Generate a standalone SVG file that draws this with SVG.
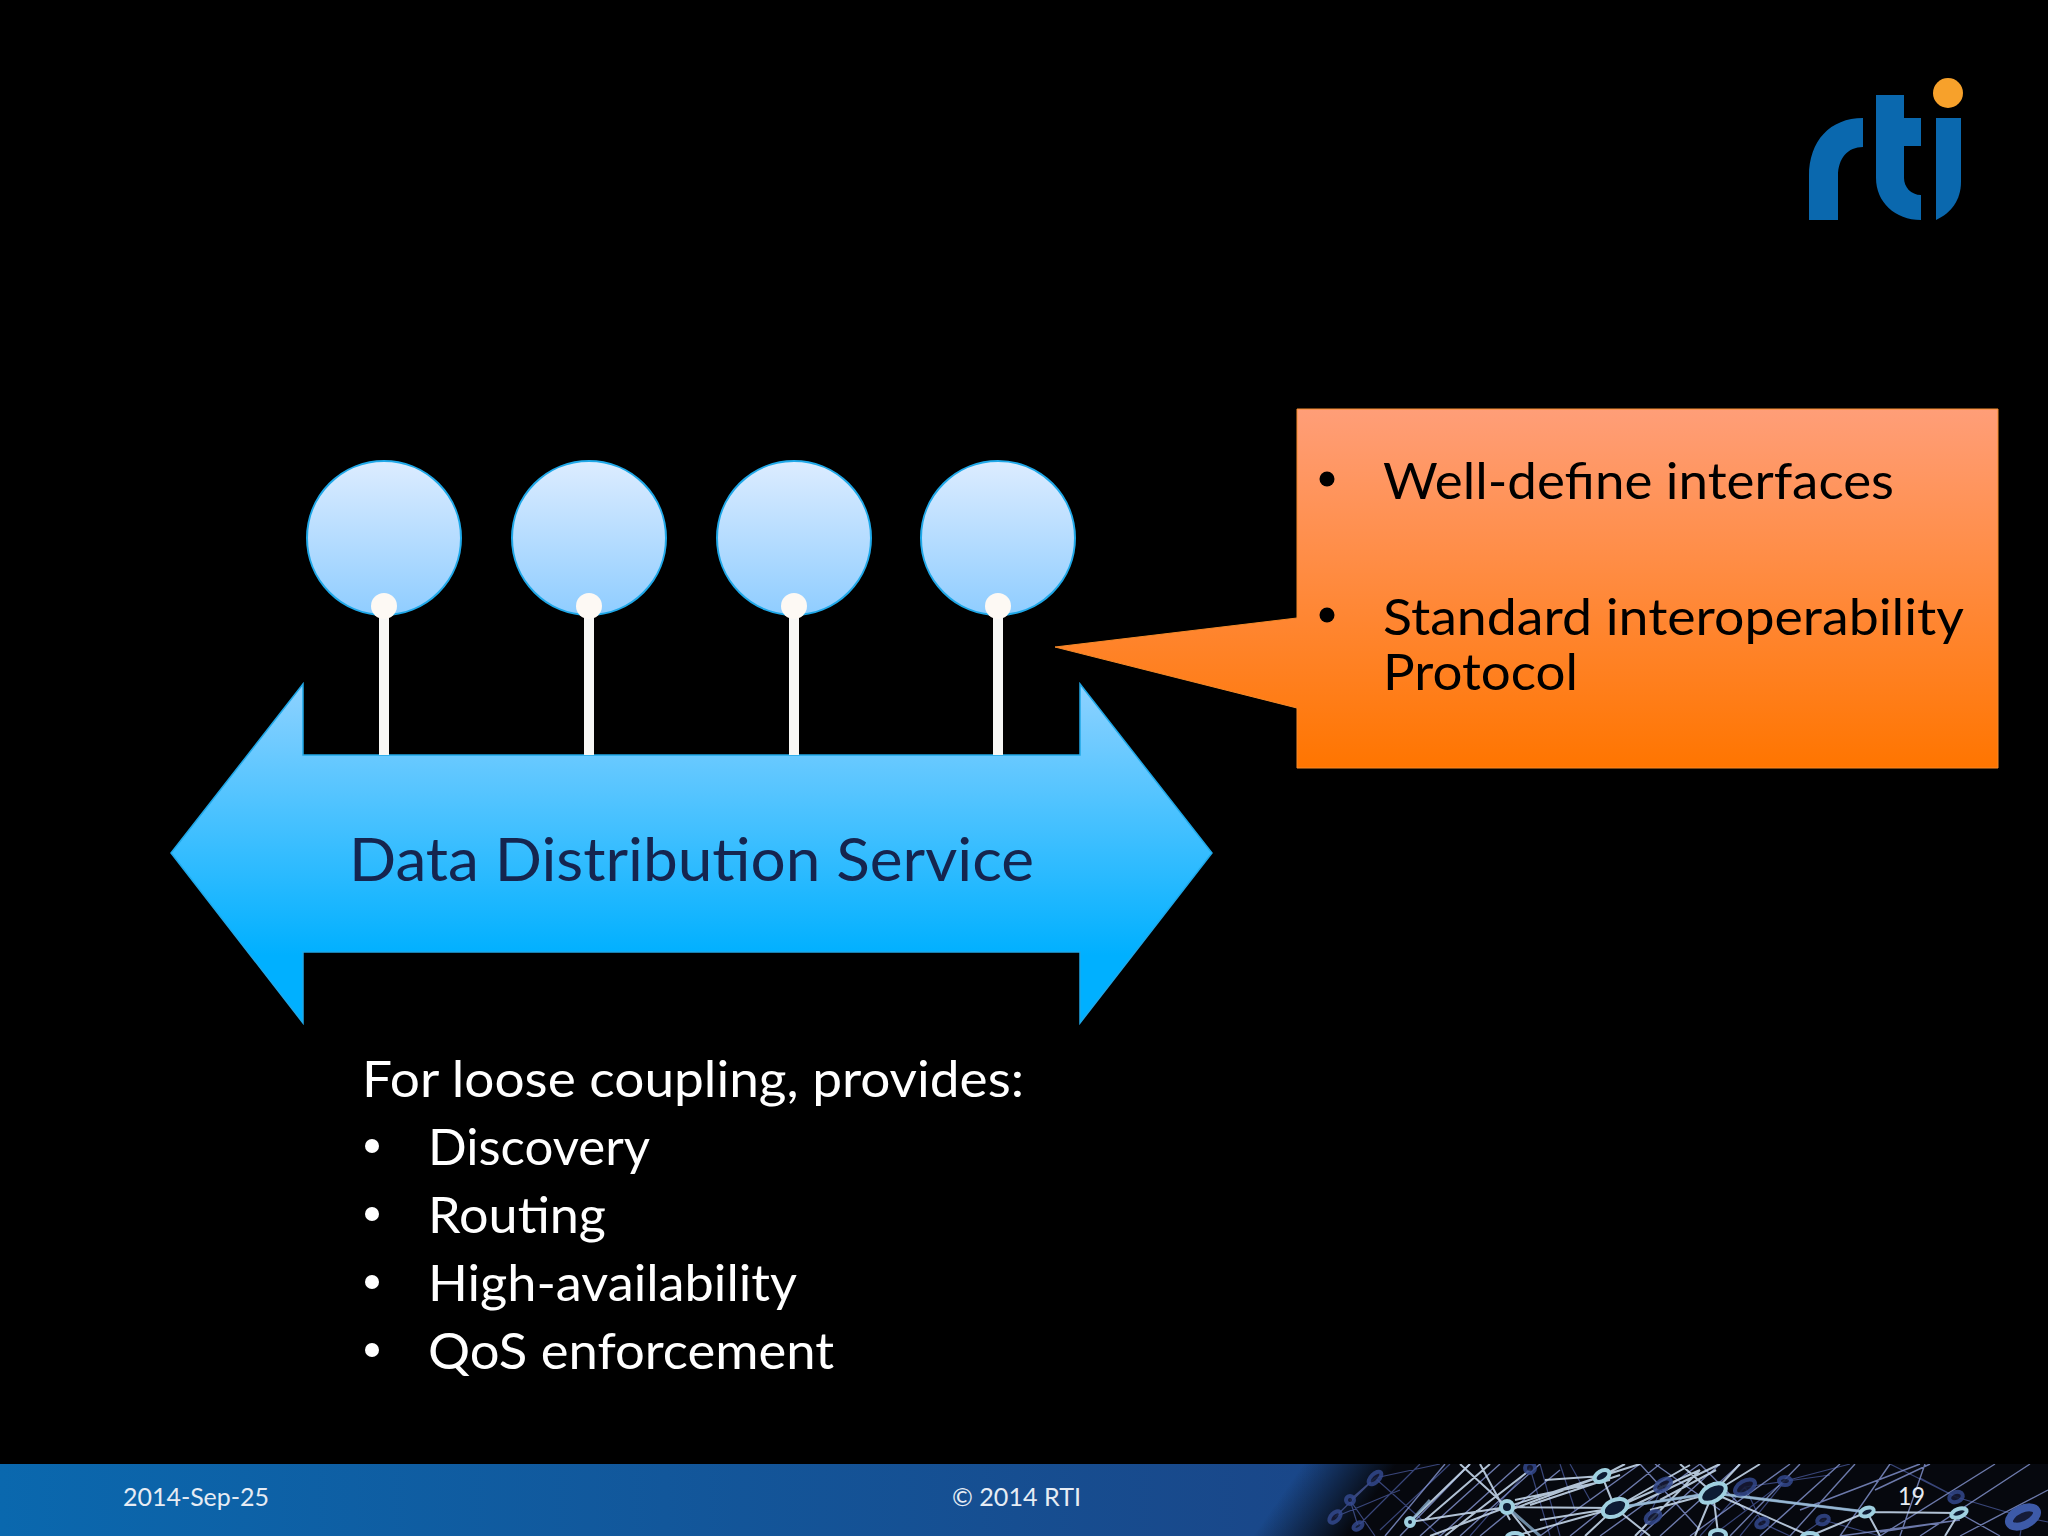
<svg xmlns="http://www.w3.org/2000/svg" width="2048" height="1536" viewBox="0 0 2048 1536">
<defs>
<style>
text{font-family:"Lato","Liberation Sans",sans-serif}
.b{font-size:50px;fill:#fff}
.k{font-size:50px;fill:#000}
.f{font-size:25px;fill:#e6ecf4}
.n0{stroke:#4a5a9c;stroke-width:1.2;fill:none;opacity:.75}
.n1{stroke:#8696d2;stroke-width:1.4;fill:none;opacity:.8}
.n2{stroke:#c4d6ea;stroke-width:2;fill:none;opacity:.9}
.n3{stroke:#8fb4d4;stroke-width:3;fill:none;opacity:.75}
.r1{fill:#101c34;stroke:#9fd0e0;stroke-width:4}
.r2{fill:#141c38;stroke:#33488c;stroke-width:4;opacity:.85}
</style>
<filter id="soft" x="-2%" y="-10%" width="104%" height="120%"><feGaussianBlur stdDeviation="0.7"/></filter>
<linearGradient id="gC" x1="0" y1="0" x2="0" y2="1"><stop offset="0" stop-color="#dcecff"/><stop offset="1" stop-color="#8fcdff"/></linearGradient>
<linearGradient id="gA" gradientUnits="userSpaceOnUse" x1="0" y1="684" x2="0" y2="1023"><stop offset="0" stop-color="#8ed2ff"/><stop offset="0.8" stop-color="#00b0ff"/><stop offset="1" stop-color="#00b0ff"/></linearGradient>
<linearGradient id="gO" gradientUnits="userSpaceOnUse" x1="0" y1="409" x2="0" y2="768"><stop offset="0" stop-color="#ff9e78"/><stop offset="1" stop-color="#ff7500"/></linearGradient>
<linearGradient id="gF" x1="0" y1="0" x2="1" y2="0"><stop offset="0" stop-color="#0a68ae"/><stop offset="0.65" stop-color="#1a4688"/><stop offset="1" stop-color="#1a4688"/></linearGradient>
<linearGradient id="gK" gradientUnits="userSpaceOnUse" x1="1280" y1="1497" x2="1343" y2="1541"><stop offset="0" stop-color="#06080e" stop-opacity="0"/><stop offset="1" stop-color="#06080e"/></linearGradient>
<clipPath id="cF"><rect x="0" y="1464" width="2048" height="72"/></clipPath>
</defs>
<rect width="2048" height="1536" fill="#000"/>
<g id="logo">
<path fill="#0a68ae" d="M1809 220V176C1809 141 1830 118 1863 118V147C1848 147 1838 158 1838 176V220Z"/>
<path fill="#0a68ae" d="M1876 95H1904V118H1921V146H1904V178C1904 187 1911 195 1921 195V220C1895 220 1876 202 1876 178Z"/>
<path fill="#0a68ae" d="M1936 118H1961V182C1961 200 1951 213 1936 220Z"/>
<circle cx="1948" cy="93" r="15" fill="#f7a12b"/>
</g>
<g id="bus">
<path fill="url(#gA)" stroke="#1fa8e8" stroke-width="1.5" d="M171 853L303 684V755H1080V684L1212 853L1080 1023V952H303V1023Z"/>
<text x="349" y="881" font-size="60" fill="#15254f" textLength="685" lengthAdjust="spacingAndGlyphs">Data Distribution Service</text>
</g>
<g id="connectors">
<rect x="379" y="606" width="10" height="149" fill="#f7f7f5"/>
<rect x="584" y="606" width="10" height="149" fill="#f7f7f5"/>
<rect x="789" y="606" width="10" height="149" fill="#f7f7f5"/>
<rect x="993" y="606" width="10" height="149" fill="#f7f7f5"/>
</g>
<g id="node1"><circle cx="384" cy="538" r="77" fill="url(#gC)" stroke="#1fa8e8" stroke-width="2"/><circle cx="384" cy="606" r="13" fill="#fdf9f4"/></g>
<g id="node2"><circle cx="589" cy="538" r="77" fill="url(#gC)" stroke="#1fa8e8" stroke-width="2"/><circle cx="589" cy="606" r="13" fill="#fdf9f4"/></g>
<g id="node3"><circle cx="794" cy="538" r="77" fill="url(#gC)" stroke="#1fa8e8" stroke-width="2"/><circle cx="794" cy="606" r="13" fill="#fdf9f4"/></g>
<g id="node4"><circle cx="998" cy="538" r="77" fill="url(#gC)" stroke="#1fa8e8" stroke-width="2"/><circle cx="998" cy="606" r="13" fill="#fdf9f4"/></g>
<g id="callout">
<path fill="url(#gO)" stroke="#f58a2a" stroke-width="1" d="M1297 409H1998V768H1297V708L1055 647L1297 618Z"/>
<circle cx="1327" cy="479" r="7.5" fill="#000"/>
<text class="k" x="1383" y="499" textLength="511" lengthAdjust="spacingAndGlyphs">Well-define interfaces</text>
<circle cx="1327" cy="615" r="7.5" fill="#000"/>
<text class="k" x="1383" y="635" textLength="581" lengthAdjust="spacingAndGlyphs">Standard interoperability</text>
<text class="k" x="1383" y="690" textLength="195" lengthAdjust="spacingAndGlyphs">Protocol</text>
</g>
<g id="list">
<text class="b" x="362" y="1097" textLength="662" lengthAdjust="spacingAndGlyphs">For loose coupling, provides:</text>
<circle cx="372" cy="1146" r="7" fill="#fff"/>
<text class="b" x="428" y="1165" textLength="222" lengthAdjust="spacingAndGlyphs">Discovery</text>
<circle cx="372" cy="1214" r="7" fill="#fff"/>
<text class="b" x="428" y="1233" textLength="178" lengthAdjust="spacingAndGlyphs">Routing</text>
<circle cx="372" cy="1282" r="7" fill="#fff"/>
<text class="b" x="428" y="1301" textLength="369" lengthAdjust="spacingAndGlyphs">High-availability</text>
<circle cx="372" cy="1350" r="7" fill="#fff"/>
<text class="b" x="428" y="1369" textLength="406" lengthAdjust="spacingAndGlyphs">QoS enforcement</text>
</g>
<g id="footer">
<rect x="0" y="1464" width="2048" height="72" fill="url(#gF)"/>
<rect x="1200" y="1464" width="848" height="72" fill="url(#gK)"/>
<g clip-path="url(#cF)"><g filter="url(#soft)">
<path class="n0" d="M1335 1517L1375 1478L1440 1464M1350 1500L1375 1536M1358 1526L1350 1500L1375 1478M1335 1517L1400 1490M1358 1526L1420 1464M1375 1478L1440 1536M1380 1530L1450 1464M1530 1468L1470 1536M1530 1468L1550 1536M1540 1464L1560 1536M1560 1464L1575 1510M1570 1464L1590 1500M1663 1485L1640 1536M1745 1487L1700 1536M1785 1481L1740 1536M1785 1481L1850 1464M1745 1487L1830 1475M1785 1481L1720 1530M1823 1520L1880 1536M1823 1520L1800 1536M1762 1523L1745 1487M1762 1523L1790 1536M1956 1497L1890 1464M1956 1497L2023 1517M2023 1517L2048 1522M2023 1517L2020 1536M1956 1497L1920 1478"/>
<path class="n1" d="M1400 1536L1470 1464M1420 1536L1500 1464M1440 1536L1520 1464M1385 1536L1445 1464M1460 1536L1540 1464M1480 1536L1560 1470M1540 1536L1640 1464M1570 1536L1660 1464M1600 1536L1700 1464M1640 1536L1720 1464M1660 1536L1740 1464M1690 1536L1790 1464M1730 1536L1800 1464M1760 1536L1840 1464M1790 1536L1855 1464M1840 1536L1890 1464M1875 1490L1930 1464M1800 1510L1920 1464M1880 1536L1995 1464M1920 1536L2030 1464M1900 1536L1925 1464M1960 1536L2048 1490M1655 1464L1720 1510M1640 1464L1700 1530M1700 1464L1745 1510M1840 1536L1960 1520M1880 1532L1959 1520M1959 1513L2000 1536"/>
<path class="n2" d="M1410 1522L1507 1507L1602 1476L1640 1464M1430 1536L1507 1507M1410 1522L1470 1464M1425 1520L1490 1464M1445 1536L1530 1470M1460 1464L1507 1507L1530 1536M1480 1464L1510 1520M1507 1507L1615 1508M1510 1510L1602 1476M1515 1500L1610 1480M1530 1505L1620 1475M1540 1520L1615 1508M1515 1536L1615 1508M1602 1476L1615 1508M1602 1476L1625 1464M1545 1480L1602 1476M1615 1508L1585 1536M1615 1508L1650 1536M1615 1508L1713 1493M1615 1508L1690 1465M1615 1508L1700 1470M1620 1512L1720 1464M1650 1510L1713 1493M1635 1536L1700 1470M1660 1500L1716 1470M1680 1464L1713 1493M1713 1493L1740 1464M1713 1493L1760 1464M1713 1493L1695 1536M1713 1493L1718 1533M1713 1493L1867 1512M1713 1493L1810 1536M1867 1512L1959 1513M1867 1512L1880 1536M1867 1512L1810 1536M1959 1513L1945 1536"/>
<path class="n3" d="M1410 1522L1430 1500M1507 1507L1540 1536M1615 1508L1713 1493M1713 1493L1867 1512"/>
<ellipse class="r2" cx="1375" cy="1478" rx="8" ry="4" transform="rotate(-45 1375 1478)"/>
<ellipse class="r2" cx="1335" cy="1517" rx="7" ry="4" transform="rotate(-45 1335 1517)"/>
<ellipse class="r2" cx="1358" cy="1526" rx="5" ry="3" transform="rotate(-35 1358 1526)"/>
<circle class="r2" cx="1350" cy="1500" r="4"/>
<circle class="r2" cx="1530" cy="1468" r="5"/>
<ellipse class="r2" cx="1663" cy="1485" rx="9" ry="5" transform="rotate(-35 1663 1485)"/>
<ellipse class="r2" cx="1745" cy="1487" rx="11" ry="6" transform="rotate(-30 1745 1487)"/>
<ellipse class="r2" cx="1785" cy="1481" rx="6" ry="4"/>
<ellipse class="r2" cx="1823" cy="1520" rx="6" ry="4" transform="rotate(-20 1823 1520)"/>
<ellipse class="r2" cx="1956" cy="1497" rx="7" ry="5" transform="rotate(-20 1956 1497)"/>
<ellipse class="r2" cx="1653" cy="1517" rx="8" ry="5" transform="rotate(-30 1653 1517)"/>
<ellipse class="r2" cx="1762" cy="1523" rx="6" ry="4" transform="rotate(-25 1762 1523)"/>
<ellipse cx="2023" cy="1517" rx="15" ry="8" transform="rotate(-25 2023 1517)" fill="#141c38" stroke="#3d5aa8" stroke-width="8"/>
<ellipse class="r1" cx="1615" cy="1508" rx="13" ry="8" transform="rotate(-25 1615 1508)" stroke-width="6"/>
<ellipse class="r1" cx="1602" cy="1476" rx="8" ry="5" transform="rotate(-30 1602 1476)"/>
<circle class="r1" cx="1507" cy="1507" r="6"/>
<circle class="r1" cx="1410" cy="1522" r="4"/>
<ellipse class="r1" cx="1713" cy="1493" rx="14" ry="8" transform="rotate(-30 1713 1493)" stroke-width="7"/>
<ellipse class="r1" cx="1867" cy="1512" rx="7" ry="4" transform="rotate(-20 1867 1512)"/>
<ellipse class="r1" cx="1959" cy="1513" rx="8" ry="4" transform="rotate(-20 1959 1513)"/>
<ellipse class="r1" cx="1718" cy="1535" rx="8" ry="5"/>
<ellipse class="r1" cx="1810" cy="1537" rx="8" ry="4"/>
<ellipse class="r1" cx="1515" cy="1537" rx="8" ry="4"/>
</g></g>
<text class="f" x="123" y="1506" textLength="146" lengthAdjust="spacingAndGlyphs">2014-Sep-25</text>
<text class="f" x="952" y="1506" textLength="129" lengthAdjust="spacingAndGlyphs">© 2014 RTI</text>
<text class="f" x="1898" y="1505" textLength="27" lengthAdjust="spacingAndGlyphs">19</text>
</g>
</svg>
